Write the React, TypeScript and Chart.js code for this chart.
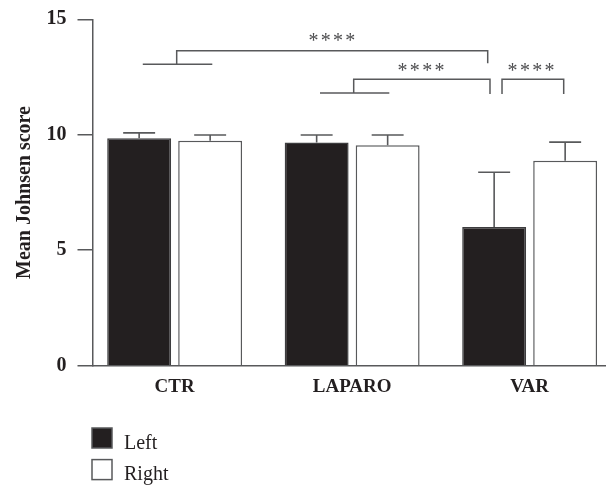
import { useEffect, useRef } from "react";
import { Chart, registerables } from "chart.js";

Chart.register(...registerables);

// ---- data ----
const categories = ["CTR", "LAPARO", "VAR"];
const seriesNames = ["Left", "Right"];
const leftMeans = [9.85, 9.66, 6.01];
const rightMeans = [9.74, 9.55, 8.87];
const leftErrors = [0.23, 0.33, 2.37];
const rightErrors = [0.25, 0.44, 0.81];
const yTicks = [0, 5, 10, 15];
const yTitle = "Mean Johnsen score";
const sigLabels = ["****", "****", "****"];
// significance annotations, in data coordinates (x = category index, y = score)
const sigLabelX = [0.886, 1.388, 2.008];
const sigLabelY = [14.25, 12.95, 12.95];
const bracketPaths: number[][][] = [
  [[-0.1795, 13.05], [0.2121, 13.05]],
  [[0.0115, 13.05], [0.0115, 13.64], [1.7637, 13.64], [1.7637, 13.1]],
  [[0.8189, 11.81], [1.2094, 11.81]],
  [[1.0087, 11.81], [1.0087, 12.4], [1.7766, 12.4], [1.7766, 11.77]],
  [[1.8443, 11.77], [1.8443, 12.4], [2.1918, 12.4], [2.1918, 11.77]],
];

const FONT = "'Liberation Serif', 'Times New Roman', serif";
const TEXT = "#231f20";
const LINE = "#58595b";

const errorBarPlugin = {
  id: "errorBars",
  afterDatasetsDraw(chart: any) {
    const ctx = chart.ctx;
    const y = chart.scales.y;
    ctx.save();
    ctx.strokeStyle = LINE;
    ctx.lineWidth = 1.6;
    chart.data.datasets.forEach((ds: any, di: number) => {
      const meta = chart.getDatasetMeta(di);
      meta.data.forEach((el: any, j: number) => {
        const v = ds.data[j].y;
        const top = y.getPixelForValue(v + ds.errors[j]);
        const half = el.width / 4;
        ctx.beginPath();
        ctx.moveTo(el.x, el.y);
        ctx.lineTo(el.x, top);
        ctx.moveTo(el.x - half, top);
        ctx.lineTo(el.x + half, top);
        ctx.stroke();
      });
    });
    ctx.restore();
  },
};

const annotationPlugin = {
  id: "sigBrackets",
  afterDatasetsDraw(chart: any) {
    const ctx = chart.ctx;
    const xs = chart.scales.x;
    const ys = chart.scales.y;
    ctx.save();
    ctx.strokeStyle = LINE;
    ctx.lineWidth = 1.5;
    bracketPaths.forEach((path) => {
      ctx.beginPath();
      path.forEach(([px, py], i) => {
        const X = xs.getPixelForValue(px);
        const Y = ys.getPixelForValue(py);
        if (i === 0) ctx.moveTo(X, Y);
        else ctx.lineTo(X, Y);
      });
      ctx.stroke();
    });
    ctx.fillStyle = "#4d4d4f";
    ctx.font = `20px ${FONT}`;
    ctx.textAlign = "center";
    ctx.textBaseline = "alphabetic";
    const m = ctx.measureText("*");
    const asc = m.actualBoundingBoxAscent;
    const desc = m.actualBoundingBoxDescent;
    const pitch = 12.3;
    sigLabels.forEach((lab, k) => {
      const cx = xs.getPixelForValue(sigLabelX[k]);
      const cy = ys.getPixelForValue(sigLabelY[k]);
      const base = cy - (desc - asc) / 2;
      const n = lab.length;
      for (let i = 0; i < n; i++) {
        const sx = cx + (i - (n - 1) / 2) * pitch;
        ctx.fillText(lab[i], sx, base);
      }
    });
    ctx.restore();
  },
};

const legendPlugin = {
  id: "stackedLegend",
  afterDraw(chart: any) {
    const ctx = chart.ctx;
    ctx.save();
    chart.data.datasets.forEach((ds: any, i: number) => {
      const x = 92;
      const y = 428 + i * 31.6;
      ctx.fillStyle = ds.backgroundColor;
      ctx.fillRect(x, y, 20, 20);
      ctx.strokeStyle = LINE;
      ctx.lineWidth = 1.5;
      ctx.strokeRect(x, y, 20, 20);
      ctx.fillStyle = TEXT;
      ctx.font = `20px ${FONT}`;
      ctx.textAlign = "left";
      ctx.textBaseline = "alphabetic";
      ctx.fillText(ds.label, 124, y + 20.5);
    });
    ctx.restore();
  },
};

export default function App() {
  const ref = useRef<HTMLCanvasElement | null>(null);

  useEffect(() => {
    if (!ref.current) return;
    const chart = new Chart(ref.current, {
      type: "bar",
      data: {
        datasets: [
          {
            label: seriesNames[0],
            data: leftMeans.map((v, i) => ({ x: i, y: v })),
            backgroundColor: "#231f20",
            borderColor: "#3d3d3f",
            borderWidth: 1.5,
            errors: leftErrors,
          } as any,
          {
            label: seriesNames[1],
            data: rightMeans.map((v, i) => ({ x: i, y: v })),
            backgroundColor: "#ffffff",
            borderColor: LINE,
            borderWidth: 1.5,
            errors: rightErrors,
          } as any,
        ],
      },
      options: {
        animation: false,
        responsive: false,
        layout: { padding: { left: 0, top: 19.3, right: 1, bottom: 82.3 } },
        datasets: { bar: { categoryPercentage: 0.8, barPercentage: 0.9 } },
        plugins: { legend: { display: false }, tooltip: { enabled: false } },
        scales: {
          x: {
            type: "linear",
            offset: false,
            min: -0.4628,
            max: 2.4245,
            grid: { display: false, drawTicks: false },
            border: { display: true, color: LINE, width: 1.5 },
            afterBuildTicks: (s: any) => {
              s.ticks = categories.map((_, i) => ({ value: i }));
            },
            afterFit: (s: any) => {
              s.height = 40;
              s.paddingLeft = 0;
              s.paddingRight = 0;
            },
            ticks: {
              callback: (v: any) => categories[v as number],
              font: { family: FONT, size: 19, weight: "bold" },
              color: TEXT,
              padding: 10,
              autoSkip: false,
              maxRotation: 0,
            },
          } as any,
          y: {
            min: 0,
            max: 15,
            afterBuildTicks: (s: any) => {
              s.ticks = yTicks.map((v) => ({ value: v }));
            },
            afterFit: (s: any) => {
              s.width = 92.5;
              s.paddingTop = 0;
              s.paddingBottom = 0;
            },
            grid: { drawOnChartArea: false, tickLength: 15, color: LINE, lineWidth: 1.5 },
            border: { display: true, color: LINE, width: 1.5 },
            ticks: {
              font: { family: FONT, size: 20, weight: "bold" },
              color: TEXT,
              padding: 11,
            },
            title: {
              display: true,
              text: yTitle,
              font: { family: FONT, size: 20, weight: "bold" },
              color: TEXT,
              padding: { top: 13, bottom: 0 },
            },
          } as any,
        },
      },
      plugins: [errorBarPlugin, annotationPlugin, legendPlugin],
    });
    return () => chart.destroy();
  }, []);

  return (
    <div style={{ position: "fixed", left: 0, top: 0, width: 606, height: 488, background: "#fff" }}>
      <canvas ref={ref} width={606} height={488} />
    </div>
  );
}
